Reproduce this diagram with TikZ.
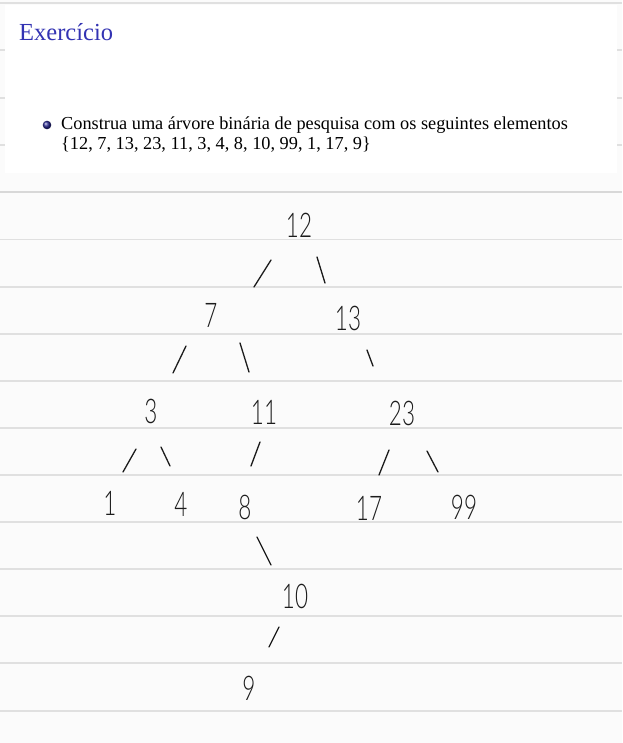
\documentclass[tikz,border=0pt]{standalone}
\usepackage{fontspec}
\setmainfont{Liberation Serif}
\newfontfamily\hand{Lato Light}
\usetikzlibrary{shadings,calc}
\definecolor{paper}{RGB}{251,251,251}
\definecolor{rule}{RGB}{224,224,224}
\definecolor{rulebold}{RGB}{216,216,216}
\definecolor{struct}{RGB}{51,51,179}
\definecolor{ink}{RGB}{28,28,28}
\tikzset{
  hw/.style={font=\hand\fontsize{34}{34}\selectfont, text=ink, inner sep=0pt, xscale=0.66},
  edge/.style={line width=1.3pt, draw=ink, line cap=round},
  ruleline/.style={draw=rule, line width=1.4pt}
}
\begin{document}
\begin{tikzpicture}[x=1pt,y=-1pt]
\useasboundingbox (0,0) rectangle (622,743);
\fill[paper] (0,0) rectangle (622,743);
% ruled lines behind slide
\foreach \yy in {3,50,98,145} \draw[ruleline] (0,\yy) -- (622,\yy);
% slide
\fill[white] (5,5) rectangle (617,173);
\draw[draw=rulebold, line width=2pt] (0,192) -- (622,192);
\foreach \yy in {239.5,286.8,334,381,428,475,522,569,616,663,711} \draw[ruleline] (0,\yy) -- (622,\yy);
% slide text
\node[anchor=base west, inner sep=0pt, text=struct, font=\fontsize{24.5}{28}\selectfont] (title) at (19,41) {Exercício};
\shade[ball color=struct!80!black] (47,125) circle (4.3);
\node[anchor=base west, inner sep=0pt, font=\fontsize{18.3}{20}\selectfont] (l1) at (61,129.5) {Construa uma árvore binária de pesquisa com os seguintes elementos};
\node[anchor=base west, inner sep=0pt, font=\fontsize{18.3}{20}\selectfont] (l2) at (61,149.5) {\{12, 7, 13, 23, 11, 3, 4, 8, 10, 99, 1, 17, 9\}};
% tree
\node[hw] (n12) at (299,225) {12};
\node[hw] (n7) at (211,315) {7};
\node[hw] (n13) at (348,318) {13};
\node[hw] (n3) at (151,411) {3};
\node[hw] (n11) at (264,412) {11};
\node[hw] (n23) at (402,413) {23};
\node[hw] (n1) at (110,503) {1};
\node[hw] (n4) at (181,504) {4};
\node[hw] (n8) at (245,507) {8};
\node[hw] (n17) at (369,508) {17};
\node[hw] (n99) at (464,507) {99};
\node[hw] (n10) at (295,596) {10};
\node[hw] (n9) at (249,688) {9};
\draw[edge] ($(n12.center)+(-28,35)$) -- ($(n7.center)+(43,-28)$);
\draw[edge] ($(n12.center)+(18,32)$) -- ($(n13.center)+(-23,-35)$);
\draw[edge] ($(n7.center)+(-25,31)$) -- ($(n3.center)+(22,-38)$);
\draw[edge] ($(n7.center)+(29,28)$) -- ($(n11.center)+(-15,-40)$);
\draw[edge] ($(n13.center)+(19,32)$) -- ($(n23.center)+(-29,-47)$);
\draw[edge] ($(n3.center)+(-15,38)$) -- ($(n1.center)+(13,-31)$);
\draw[edge] ($(n3.center)+(10,36)$) -- ($(n4.center)+(-11,-38)$);
\draw[edge] ($(n11.center)+(-4,30)$) -- ($(n8.center)+(6,-41)$);
\draw[edge] ($(n23.center)+(-13,37)$) -- ($(n17.center)+(10,-33)$);
\draw[edge] ($(n23.center)+(25,38)$) -- ($(n99.center)+(-26,-35)$);
\draw[edge] ($(n8.center)+(12,30)$) -- ($(n10.center)+(-24,-31)$);
\draw[edge] ($(n10.center)+(-16,31)$) -- ($(n9.center)+(20,-41)$);
\end{tikzpicture}
\end{document}
